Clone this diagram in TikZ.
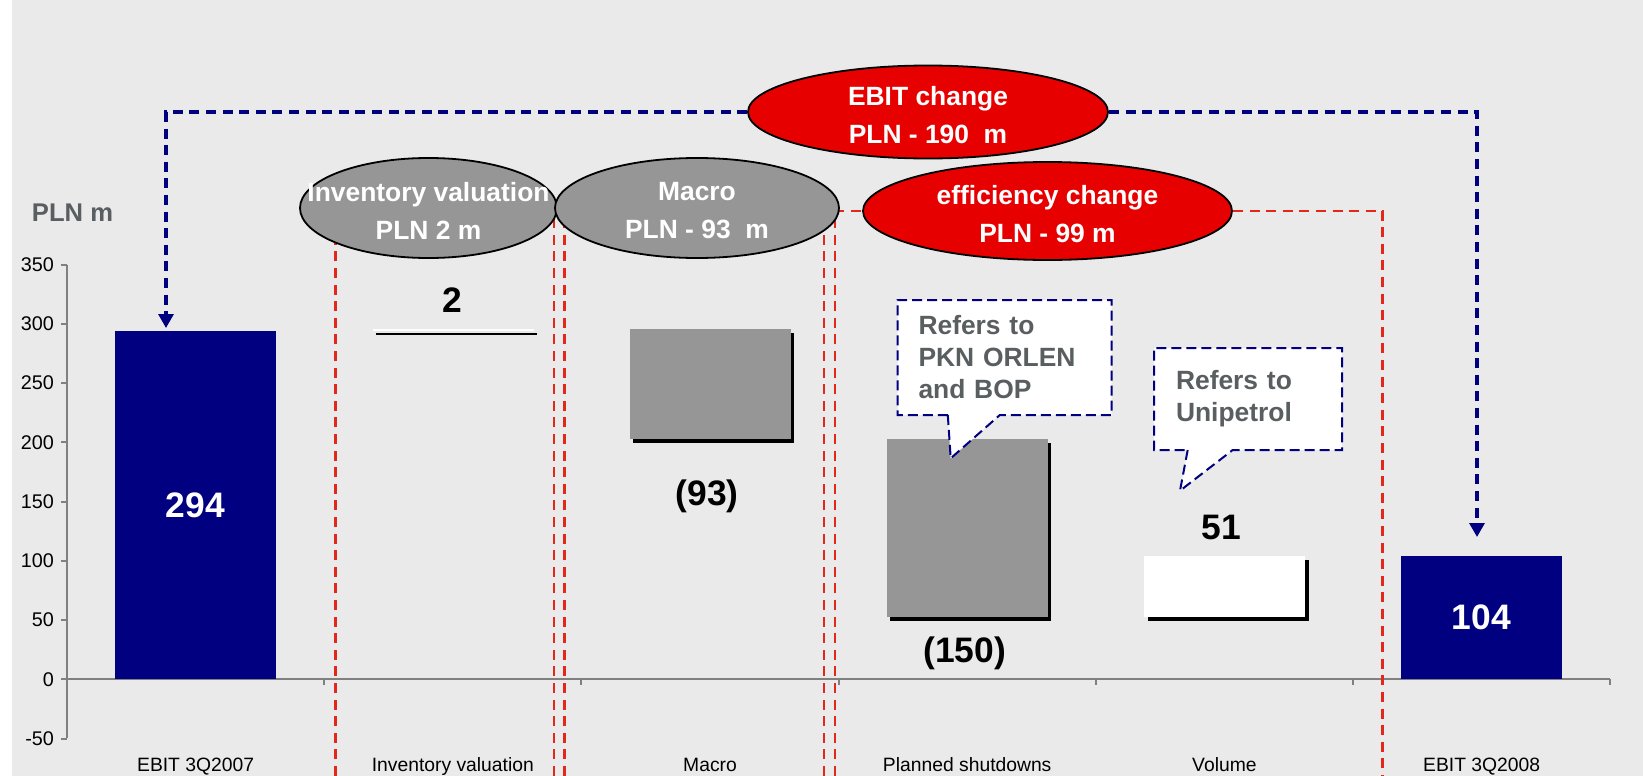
\documentclass[tikz,border=0pt]{standalone}
\usepackage{fontspec}
\setmainfont{Liberation Sans}
\usetikzlibrary{arrows.meta,positioning,shapes.geometric,shapes.callouts,shadows}

\definecolor{navy}{RGB}{0,0,128}
\definecolor{bargray}{RGB}{150,150,150}
\definecolor{ovalred}{RGB}{230,0,0}
\definecolor{dashred}{RGB}{226,40,26}
\definecolor{txtgray}{RGB}{89,94,96}
\definecolor{bggray}{RGB}{234,234,234}
\definecolor{axisgray}{RGB}{128,128,128}

\begin{document}
\begin{tikzpicture}[x=0.5pt,y=-0.5pt,node distance=128.6pt,
    >={Triangle[width=7.5pt,length=7pt]},
    oval/.style={ellipse,draw=black,line width=0.9pt,inner sep=0pt},
    ovaltext/.style={text=white,align=center,yshift=-1.5pt,font=\fontsize{13.2}{19}\selectfont\bfseries},
    bar/.style={anchor=south west,inner sep=0pt,outer sep=0pt,minimum width=80.5pt},
    shadowed/.style={drop shadow={shadow xshift=1.8pt,shadow yshift=-2pt,fill=black,opacity=1}},
    numfont/.style={font=\fontsize{17.7}{20}\selectfont\bfseries},
    catlabel/.style={font=\fontsize{9.65}{11}\selectfont,text height=1.5ex,text depth=.25ex},
    axisline/.style={draw=axisgray,line width=1pt},
    redline/.style={draw=dashred,line width=1.4pt,dash pattern=on 5pt off 3.3pt},
    blueline/.style={draw=navy,line width=1.6pt,dash pattern=on 5pt off 3.3pt},
    note/.style={rectangle callout,fill=white,draw=navy,line width=1pt,
      dash pattern=on 5pt off 2.5pt,align=left,text=txtgray,
      font=\fontsize{13.2}{16}\selectfont\bfseries}]

  \useasboundingbox (0,0) rectangle (1643,776);
  \fill[white] (0,0) rectangle (12,776);
  \fill[bggray] (12,0) rectangle (1643,776);

  % group frames
  \draw[redline] (335.7,776) -- (335.7,208);
  \draw[redline] (554,776) -- (554,208);
  \draw[redline] (564.7,776) -- (564.7,208);
  \draw[redline] (824,776) -- (824,208);

  % axes
  \draw[axisline] (67,264.6) -- (67,738.3);
  \draw[axisline] (67,679.3) -- (1610,679.3);
  \foreach \v in {-50,0,...,350}
    \draw[axisline] (61,{679.3-1.185*\v}) node[left,inner sep=3pt,font=\fontsize{9.9}{11}\selectfont] (y\v) {\v} -- (67,{679.3-1.185*\v});
  \foreach \i in {0,...,6}
    \draw[axisline] ({67+257.17*\i},679.3) -- ++(0,6);
  \node[font=\fontsize{12.8}{15}\selectfont\bfseries,text=txtgray] (unit) at (72.5,213) {PLN m};

  % categories
  \node[catlabel] (c1) at (195.6,765) {EBIT 3Q2007};
  \node[catlabel] (c2) [right of=c1] {Inventory valuation};
  \node[catlabel] (c3) [right of=c2] {Macro};
  \node[catlabel] (c4) [right of=c3] {Planned shutdowns};
  \node[catlabel] (c5) [right of=c4] {Volume};
  \node[catlabel] (c6) [right of=c5] {EBIT 3Q2008};

  % bars
  \node[bar,fill=navy,minimum height=174.2pt,text=white,numfont] (b1) at (115,679.3) {294};
  \node[bar,fill=white,minimum height=1.2pt,shadowed] (b2) at (372.5,330.9) {};
  \node[bar,fill=bargray,minimum height=55.1pt,shadowed] (b3) at (629.5,438.7) {};
  \node[bar,fill=bargray,minimum height=88.9pt,shadowed] (b4) at (886.5,616.5) {};
  \node[bar,fill=white,minimum height=30.2pt,shadowed] (b5) at (1144,616.5) {};
  \node[bar,fill=navy,minimum height=61.6pt,text=white,numfont] (b6) at (1401,679.3) {104};

  \node[numfont] (v2) at (452,300) {2};
  \node[numfont] (v3) at (707,496) {(93)};
  \node[numfont] (v4) at (964.7,653) {(150)};
  \node[numfont] (v5) at (1221,527) {51};

  % totals
  \coordinate (a1) at (166,328);
  \coordinate (a2) at (1477,537);
  \node[oval,fill=ovalred,minimum width=180pt,minimum height=46.5pt] (ebit) at (928,112) {};
  \draw[blueline,->] (ebit) -| (a1);
  \draw[blueline,->] (ebit) -| (a2);
  \node[ovaltext] (ebit-t) at (ebit) {EBIT change\\PLN - 190\ \ m};

  % groups
  \node[oval,fill=ovalred,minimum width=184.5pt,minimum height=49pt] (eff) at (1047.5,211) {};
  \draw[redline] (835,776) |- (eff);
  \draw[redline] (eff) -| (1382.7,776);
  \node[ovaltext] (eff-t) at (eff) {efficiency change\\PLN - 99 m};
  \node[oval,fill=bargray,minimum width=128.5pt,minimum height=50pt] (inv) at (428.5,208) {};
  \node[ovaltext] (inv-t) at (inv) {Inventory valuation\\PLN 2 m};
  \node[oval,fill=bargray,minimum width=142pt,minimum height=50pt] (mac) at (697,208) {};
  \node[ovaltext] (mac-t) at (mac) {Macro\\PLN - 93\ \ m};

  % notes
  \coordinate (p1) at (950.7,458.3);
  \coordinate (p2) at (1180,490.7);
  \node[note,minimum width=107pt,minimum height=57.5pt,inner xsep=10.5pt,text width=86pt,
    callout absolute pointer={(p1)},callout pointer width=26pt] (n1) at (1004.5,357.5)
    {Refers to\\PKN ORLEN\\and BOP};
  \node[note,minimum width=94pt,minimum height=51pt,inner xsep=11pt,text width=72pt,
    callout absolute pointer={(p2)},callout pointer width=22.5pt] (n2) at (1248,399)
    {Refers to\\Unipetrol};
\end{tikzpicture}
\end{document}
